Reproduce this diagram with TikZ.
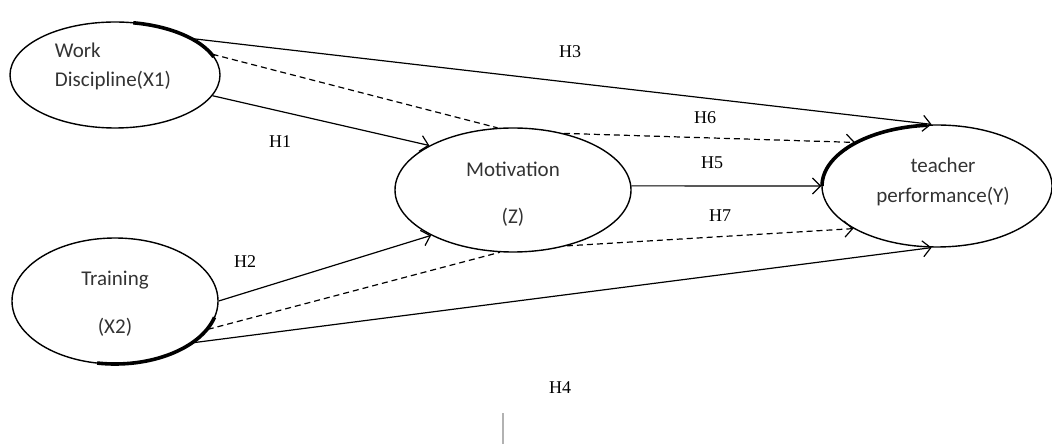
\documentclass[tikz,border=0pt]{standalone}
\usepackage{fontspec}
\setmainfont{Liberation Serif}
\newfontfamily\carlito{Carlito}
\usetikzlibrary{shapes.geometric,arrows.meta}

\begin{document}
\begin{tikzpicture}[x=0.5pt, y=0.5pt,
    construct/.style={ellipse, draw, line width=0.7pt, inner sep=0pt},
    rim/.style={line width=1.8pt},
    vartext/.style={font=\carlito\fontsize{10.5pt}{12.8pt}\selectfont,
                    text=black!80, inner sep=0pt},
    hyp/.style={font=\fontsize{9pt}{11pt}\selectfont, inner sep=0pt},
    tip/.style={-{Straight Barb[length=4pt,width=8pt]}},
    effect/.style={line width=0.6pt, tip},
    mediated/.style={line width=0.6pt, dash pattern=on 3pt off 2pt}
]
\useasboundingbox (0,0) rectangle (1052,444);

% constructs
\node[construct, minimum width=105pt, minimum height=53pt] (x1) at (115,369) {};
\node[construct, minimum width=103pt, minimum height=63pt] (x2) at (115,143) {};
\node[construct, minimum width=118pt, minimum height=62pt] (z) at (513,254) {};
\node[construct, minimum width=115pt, minimum height=61pt] (y) at (937,258) {};

% shadowed rims
\draw[rim] ([shift={(20:52.5pt and 26.5pt)}]x1.center)
    arc[start angle=20, end angle=80, x radius=52.5pt, y radius=26.5pt];
\draw[rim] ([shift={(260:51.5pt and 31.5pt)}]x2.center)
    arc[start angle=260, end angle=345, x radius=51.5pt, y radius=31.5pt];
\draw[rim] ([shift={(95:57.5pt and 30.5pt)}]y.center)
    arc[start angle=95, end angle=180, x radius=57.5pt, y radius=30.5pt];

% names
\node[vartext, align=left] (x1t) at (113,378) {Work\\[1.7pt]Discipline(X1)};
\node[vartext, align=center] (x2t) at (115,140) {Training\\[11pt](X2)};
\node[vartext, align=center] (zt) at (513,250) {Motivation\\[11pt](Z)};
\node[vartext, align=center] (yt) at (943,262) {teacher\\[2pt]performance(Y)};

% paths
\draw[effect] (x1.-12) -- (z.152);
\draw[effect] (x1.25) -- (y.95);
\draw[mediated] (x1.12) -- (z.104);
\draw[mediated, tip] (z.48) -- (y.152);
\draw[effect] (z.2) -- (y.180);
\draw[effect] (x2.0) -- (z.209);
\draw[mediated] (x2.-17) -- (z.258);
\draw[mediated, tip] (z.-46) -- (y.207);
\draw[effect] (x2.-28) -- (y.265);

% hypotheses
\node[hyp] (h1) at (280,302) {H1};
\node[hyp] (h2) at (245,182) {H2};
\node[hyp] (h3) at (570,392) {H3};
\node[hyp] (h4) at (560,56) {H4};
\node[hyp] (h5) at (712,281) {H5};
\node[hyp] (h6) at (705,326) {H6};
\node[hyp] (h7) at (720,228) {H7};

\draw[gray!60, line width=1pt] (503,0) -- (503,31);
\end{tikzpicture}
\end{document}
